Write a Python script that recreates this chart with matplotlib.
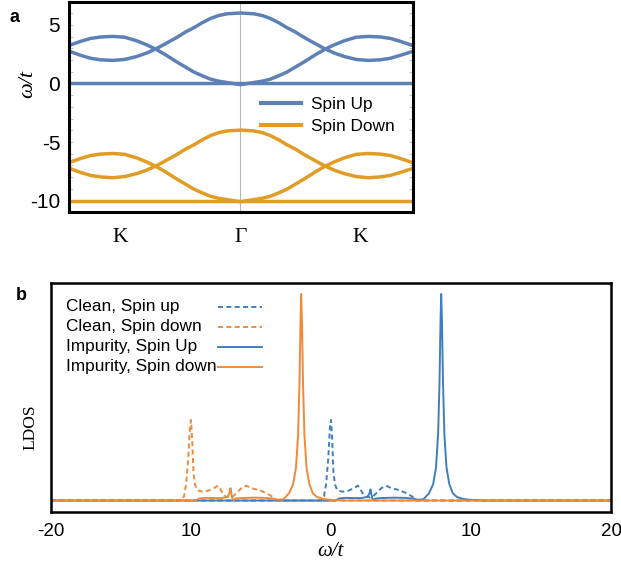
import matplotlib
matplotlib.use("Agg")
import matplotlib.pyplot as plt
from matplotlib.ticker import MultipleLocator

plt.rcParams["axes.unicode_minus"] = False
plt.rcParams["lines.scale_dashes"] = False
plt.rcParams["font.family"] = ["Liberation Sans", "DejaVu Sans"]

# ---- panel a: band structure along K - Gamma - K ----
k_path = [-1.435, -1.333, -1.25, -1.167, -1.067, -0.967, -0.867, -0.783, -0.708,
          -0.625, -0.528, -0.458, -0.389, -0.317, -0.25, -0.183, -0.111, 0.0,
          0.111, 0.183, 0.25, 0.317, 0.389, 0.458, 0.528, 0.625, 0.708, 0.783,
          0.867, 0.967, 1.067, 1.167, 1.25, 1.333, 1.44]
up_band_a = [3.23, 3.6, 3.85, 3.97, 4.02, 3.95, 3.65, 3.3, 2.94,
             2.45, 1.82, 1.4, 0.98, 0.65, 0.37, 0.2, 0.08, -0.1,
             0.08, 0.2, 0.37, 0.65, 0.98, 1.4, 1.82, 2.45, 2.94, 3.3,
             3.65, 3.95, 4.02, 3.97, 3.85, 3.6, 3.23]
up_band_b = [2.78, 2.4, 2.15, 2.02, 1.97, 2.05, 2.3, 2.6, 2.94,
             3.4, 3.95, 4.4, 4.76, 5.2, 5.55, 5.8, 5.95, 6.02,
             5.95, 5.8, 5.55, 5.2, 4.76, 4.4, 3.95, 3.4, 2.94, 2.6,
             2.3, 2.05, 1.97, 2.02, 2.15, 2.4, 2.75]
down_band_a = [-6.77, -6.4, -6.15, -6.03, -5.98, -6.05, -6.35, -6.7, -7.06,
               -7.55, -8.18, -8.6, -9.02, -9.35, -9.63, -9.8, -9.92, -10.1,
               -9.92, -9.8, -9.63, -9.35, -9.02, -8.6, -8.18, -7.55, -7.06, -6.7,
               -6.35, -6.05, -5.98, -6.03, -6.15, -6.4, -6.77]
down_band_b = [-7.22, -7.6, -7.85, -7.98, -8.05, -7.95, -7.7, -7.4, -7.06,
               -6.6, -6.05, -5.6, -5.24, -4.8, -4.45, -4.2, -4.05, -3.98,
               -4.05, -4.2, -4.45, -4.8, -5.24, -5.6, -6.05, -6.6, -7.06, -7.4,
               -7.7, -7.95, -8.05, -7.98, -7.85, -7.6, -7.25]
up_flat = 0.0
down_flat = -10.0
k_ticks = [-1.0, 0.0, 1.0]
k_labels = ["K", "Γ", "K"]
a_yticks = [-10, -5, 0, 5]

# ---- panel b: LDOS ----
w_clean_up = [-20, -0.7, -0.5, -0.35, -0.2, -0.08, 0.0, 0.08, 0.18, 0.3, 0.45, 0.8,
              1.2, 1.6, 1.92, 2.1, 2.3, 2.5, 2.8, 3.0, 3.3, 3.6, 3.94, 4.3, 4.9,
              5.4, 5.84, 6.08, 20]
ldos_clean_up = [0, 0, 0.02, 0.08, 0.2, 0.35, 0.39, 0.3, 0.13, 0.075, 0.05, 0.043,
                 0.047, 0.058, 0.072, 0.055, 0.03, 0.018, 0.015, 0.02, 0.04, 0.06,
                 0.072, 0.06, 0.05, 0.035, 0.018, 0.0, 0]
w_clean_down = [-20, -10.7, -10.5, -10.35, -10.2, -10.08, -10.0, -9.92, -9.82, -9.7,
                -9.55, -9.2, -8.8, -8.4, -8.08, -7.9, -7.7, -7.5, -7.2, -7.0, -6.7,
                -6.4, -6.06, -5.7, -5.1, -4.6, -4.16, -3.92, 20]
ldos_clean_down = [0, 0, 0.02, 0.08, 0.2, 0.35, 0.39, 0.3, 0.13, 0.075, 0.05, 0.043,
                   0.047, 0.058, 0.072, 0.055, 0.03, 0.018, 0.015, 0.02, 0.04, 0.06,
                   0.072, 0.06, 0.05, 0.035, 0.018, 0.0, 0]
w_imp_up = [-20, 0.3, 0.6, 1.0, 1.6, 2.2, 2.6, 2.75, 2.82, 2.95, 3.05, 3.2, 3.6, 4.5,
            5.2, 5.8, 6.2, 6.6, 7.0, 7.3, 7.5, 7.65, 7.75, 7.82, 7.87, 7.93, 8.0,
            8.1, 8.25, 8.45, 8.7, 9.0, 9.5, 10.0, 11.0, 20]
ldos_imp_up = [0, 0, 0.01, 0.013, 0.012, 0.012, 0.018, 0.035, 0.054, 0.01, 0.003,
               0.01, 0.012, 0.014, 0.013, 0.01, 0.004, 0.006, 0.035, 0.08, 0.16, 0.32,
               0.57, 0.86, 1.0, 0.86, 0.57, 0.32, 0.16, 0.08, 0.035, 0.017, 0.007,
               0.003, 0, 0]
w_imp_down = [-20, -9.7, -9.4, -9.0, -8.4, -7.8, -7.4, -7.25, -7.18, -7.05, -6.95,
              -6.8, -6.4, -5.5, -4.8, -4.2, -3.8, -3.4, -3.0, -2.7, -2.5, -2.35,
              -2.25, -2.18, -2.13, -2.07, -2.0, -1.9, -1.75, -1.55, -1.3, -1.0,
              -0.5, 0.0, 1.0, 20]
ldos_imp_down = [0, 0, 0.01, 0.013, 0.012, 0.012, 0.018, 0.035, 0.06, 0.01, 0.003,
                 0.01, 0.012, 0.014, 0.013, 0.01, 0.004, 0.006, 0.035, 0.08, 0.16,
                 0.32, 0.57, 0.86, 1.0, 0.86, 0.57, 0.32, 0.16, 0.08, 0.035, 0.017,
                 0.007, 0.003, 0, 0]
b_xticks = [-20, -10, 0, 10, 20]
b_xlabels = ["-20", "10", "0", "10", "20"]
b_legend = ["Clean, Spin up", "Clean, Spin down", "Impurity, Spin Up",
            "Impurity, Spin down"]

BLUE_A, ORANGE_A = "#5E81B5", "#E19C24"
BLUE_B, ORANGE_B = "#3f7fc0", "#f08a3b"
SERIF = ["Liberation Serif", "DejaVu Serif"]
DASH = (3.6, 2.4)

W, H = 621, 571
fig = plt.figure(figsize=(W / 100, H / 100), dpi=100)


def box(x0, y0, x1, y1):
    # pixel box (top-left origin) -> figure fraction rect
    return [x0 / W, 1 - y1 / H, (x1 - x0) / W, (y1 - y0) / H]


# panel a
ax = fig.add_axes(box(68.5, 1.5, 413, 212.3))
ax.axvline(0.0, color="#b8b8b8", lw=0.8, zorder=1)
ax.axhline(up_flat, color=BLUE_A, lw=2.5)
ax.plot(k_path, up_band_a, color=BLUE_A, lw=2.5)
ax.plot(k_path, up_band_b, color=BLUE_A, lw=2.5)
ax.axhline(down_flat, color=ORANGE_A, lw=2.5)
ax.plot(k_path, down_band_a, color=ORANGE_A, lw=2.5)
ax.plot(k_path, down_band_b, color=ORANGE_A, lw=2.5)
ax.set_xlim(-1.435, 1.44)
ax.set_ylim(-11, 7)
ax.set_xticks(k_ticks)
ax.set_xticklabels(k_labels, family=SERIF, fontsize=15.5)
ax.set_yticks(a_yticks)
ax.set_yticklabels([str(v) for v in a_yticks], fontsize=15)
ax.yaxis.set_minor_locator(MultipleLocator(1))
ax.tick_params(axis="x", length=0, pad=11)
ax.tick_params(axis="y", which="both", direction="in", left=True, right=True,
               length=3, width=0.8, color="#c0c0c0", pad=6)
for s in ax.spines.values():
    s.set_linewidth(2.2)
h1, = ax.plot([], [], color=BLUE_A, lw=3, label="Spin Up")
h2, = ax.plot([], [], color=ORANGE_A, lw=3, label="Spin Down")
ax.legend(handles=[h1, h2], loc="upper left", bbox_to_anchor=(0.56, 0.548),
          frameon=False, fontsize=12.4, handlelength=2.3, handletextpad=0.6,
          labelspacing=0.42, borderpad=0, borderaxespad=0)
fig.text(28 / W, 1 - 84 / H, "ω/t", family=SERIF, style="italic", fontsize=16,
         rotation=90, ha="center", va="center")
fig.text(15 / W, 1 - 17 / H, "a", fontsize=13, weight="bold", ha="center", va="center")

# panel b
bx = fig.add_axes(box(51, 283, 611, 511.7))
bx.plot(w_clean_up, ldos_clean_up, color=BLUE_B, lw=1.4, dashes=DASH)
bx.plot(w_clean_down, ldos_clean_down, color=ORANGE_B, lw=1.4, dashes=DASH)
bx.plot(w_imp_up, ldos_imp_up, color=BLUE_B, lw=1.4)
bx.plot(w_imp_down, ldos_imp_down, color=ORANGE_B, lw=1.4)
bx.set_xlim(-20, 20)
bx.set_ylim(-0.054, 1.053)
bx.set_xticks(b_xticks)
bx.set_xticklabels(b_xlabels, fontsize=13.5)
bx.set_yticks([])
bx.tick_params(axis="x", length=0, pad=8)
for s in bx.spines.values():
    s.set_linewidth(1.8)

# legend with left-aligned labels and keys after the text column
styles = [(BLUE_B, DASH), (ORANGE_B, DASH), (BLUE_B, None), (ORANGE_B, None)]
row_y = [306.7, 327, 347, 366.7]
for label, (col, dash), yp in zip(b_legend, styles, row_y):
    yf = 1 - yp / H
    fig.text(65.7 / W, yf, label, fontsize=12.4, ha="left", va="center")
    ln = plt.Line2D([218 / W, 262 / W], [yf, yf], transform=fig.transFigure,
                    color=col, lw=1.4)
    if dash:
        ln.set_dashes(dash)
    fig.add_artist(ln)

fig.text(30 / W, 1 - 427 / H, "LDOS", family=SERIF, fontsize=12.5, rotation=90,
         ha="center", va="center")
fig.text(330 / W, 1 - 552 / H, "ω/t", family=SERIF, style="italic", fontsize=15,
         ha="center", va="center")
fig.text(21 / W, 1 - 295 / H, "b", fontsize=13, weight="bold", ha="center", va="center")

fig.savefig("out.png", dpi=100)
